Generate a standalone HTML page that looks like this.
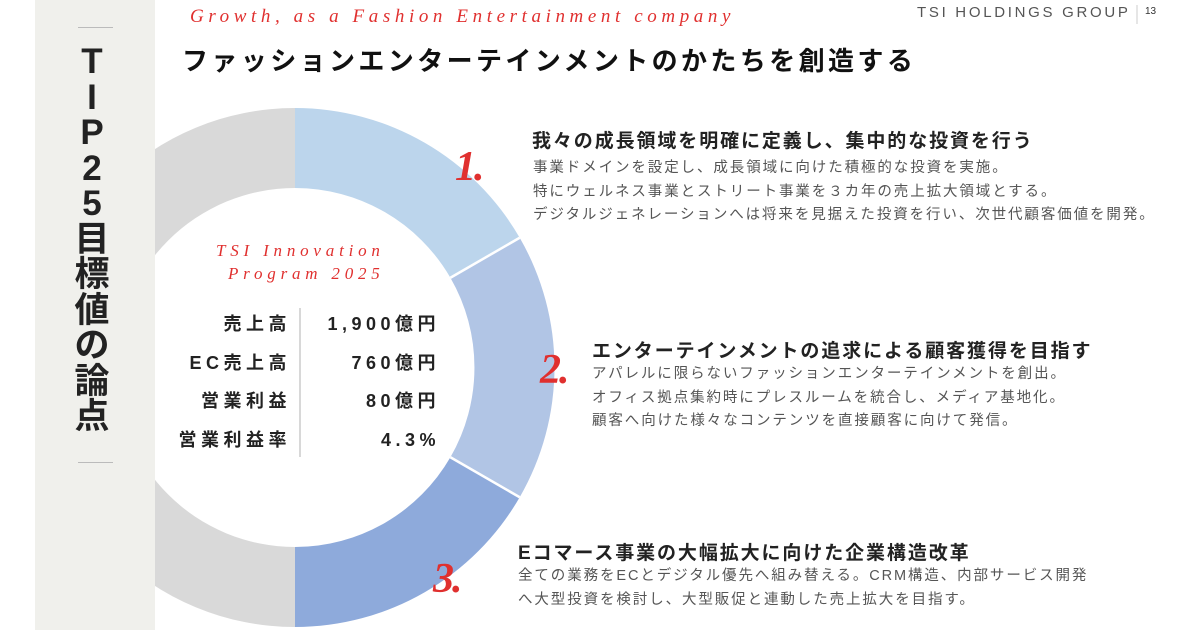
<!DOCTYPE html>
<html><head><meta charset="utf-8"><style>
*{margin:0;padding:0;box-sizing:border-box}
body{width:1200px;height:630px;overflow:hidden;background:#fff;position:relative;font-family:"Liberation Sans","Noto Sans CJK JP",sans-serif;color:#222}
.abs{position:absolute;white-space:nowrap}
.side{position:absolute;left:35px;top:0;width:120px;height:630px;background:#f0f0ec}
.vt{position:absolute;left:70px;top:44px;width:44px;text-align:center;font-size:35px;line-height:35.5px;color:#222;font-weight:bold}
.hl{position:absolute;left:78px;width:35px;height:1px;background:#bbb}
.red{color:#e0302f;font-family:"Liberation Serif",serif;font-style:italic}
.h{font-size:19px;font-weight:bold;letter-spacing:1.9px;color:#222}
.b{font-size:14.5px;letter-spacing:1.9px;color:#555;line-height:23.5px}
.num{font-size:42px;font-weight:bold;letter-spacing:-2px}
.tb{font-size:18px;letter-spacing:4.5px;color:#222;line-height:38.5px;font-weight:bold}
</style></head><body>
<svg class="abs" style="left:0;top:0" width="1200" height="630">
<g transform="translate(295,367.5)">
<path d="M0,-259.5 A259.5,259.5 0 0 0 0,259.5 L0,179.5 A179.5,179.5 0 0 1 0,-179.5Z" fill="#d9d9d9"/>
<path d="M0,-259.5 A259.5,259.5 0 0 1 224.7,-129.75 L155.4,-89.75 A179.5,179.5 0 0 0 0,-179.5Z" fill="#bcd5ec"/>
<path d="M224.7,-129.75 A259.5,259.5 0 0 1 224.7,129.75 L155.4,89.75 A179.5,179.5 0 0 0 155.4,-89.75Z" fill="#b1c5e5"/>
<path d="M224.7,129.75 A259.5,259.5 0 0 1 0,259.5 L0,179.5 A179.5,179.5 0 0 0 155.4,89.75Z" fill="#8eaadb"/>
<line x1="155.4" y1="-89.75" x2="224.7" y2="-129.75" stroke="#fff" stroke-width="2.5"/>
<line x1="155.4" y1="89.75" x2="224.7" y2="129.75" stroke="#fff" stroke-width="2.5"/>
</g>
<line x1="300" y1="308" x2="300" y2="457" stroke="#ccc" stroke-width="1.5"/>
<line x1="1137" y1="5" x2="1137" y2="24" stroke="#ccc" stroke-width="1"/>
</svg>
<div class="side"></div>
<div class="hl" style="top:27px"></div>
<div class="hl" style="top:462px"></div>
<div class="vt">T<br>I<br>P<br>2<br>5<br>目<br>標<br>値<br>の<br>論<br>点</div>

<div class="abs red" style="left:190px;top:6px;font-size:19px;letter-spacing:4.6px">Growth, as a Fashion Entertainment company</div>
<div class="abs" style="left:182px;top:41px;font-size:26px;font-weight:bold;letter-spacing:3.4px;color:#111">ファッションエンターテインメントのかたちを創造する</div>
<div class="abs" style="left:917px;top:4px;font-size:15px;letter-spacing:2.7px;color:#555">TSI HOLDINGS GROUP</div>
<div class="abs" style="left:1145px;top:6px;font-size:10px;color:#333">13</div>

<div class="abs red" style="left:216px;top:241px;font-size:17px;letter-spacing:4.8px">TSI Innovation</div>
<div class="abs red" style="left:228px;top:264px;font-size:17px;letter-spacing:4.8px">Program 2025</div>
<div class="abs tb" style="right:909px;top:305px;text-align:right">売上高<br>EC売上高<br>営業利益<br>営業利益率</div>
<div class="abs tb" style="right:760px;top:305px;text-align:right">1,900億円<br>760億円<br>80億円<br>4.3%</div>

<div class="abs red num" style="left:455px;top:143px">1.</div>
<div class="abs red num" style="left:540px;top:346px">2.</div>
<div class="abs red num" style="left:433px;top:555px">3.</div>

<div class="abs h" style="left:532px;top:126px">我々の成長領域を明確に定義し、集中的な投資を行う</div>
<div class="abs b" style="left:533px;top:157px">事業ドメインを設定し、成長領域に向けた積極的な投資を実施。<br>特にウェルネス事業とストリート事業を３カ年の売上拡大領域とする。<br>デジタルジェネレーションへは将来を見据えた投資を行い、次世代顧客価値を開発。</div>

<div class="abs h" style="left:592px;top:336px">エンターテインメントの追求による顧客獲得を目指す</div>
<div class="abs b" style="left:592px;top:363px">アパレルに限らないファッションエンターテインメントを創出。<br>オフィス拠点集約時にプレスルームを統合し、メディア基地化。<br>顧客へ向けた様々なコンテンツを直接顧客に向けて発信。</div>

<div class="abs h" style="left:518px;top:538px">Eコマース事業の大幅拡大に向けた企業構造改革</div>
<div class="abs b" style="left:518px;top:565px">全ての業務をECとデジタル優先へ組み替える。CRM構造、内部サービス開発<br>へ大型投資を検討し、大型販促と連動した売上拡大を目指す。</div>
</body></html>
